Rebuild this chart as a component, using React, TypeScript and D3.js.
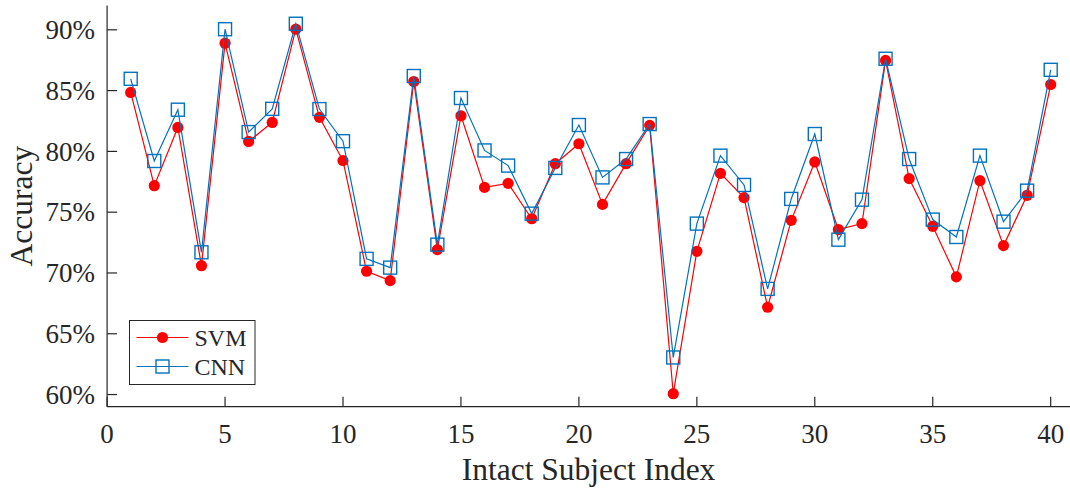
import { useEffect, useRef } from 'react'
import * as d3 from 'd3'

const SUBJECTS = d3.range(1, 41)

const SVM = [
  84.85, 77.18, 81.97, 70.6, 88.9, 80.82, 82.38, 90.05, 82.8, 79.24,
  70.14, 69.37, 85.75, 71.92, 82.93, 77.04, 77.37, 74.46, 78.99, 80.63,
  75.64, 78.99, 82.14, 60.07, 71.78, 78.19, 76.2, 67.18, 74.33, 79.13,
  73.57, 74.06, 87.48, 77.76, 73.84, 69.68, 77.59, 72.25, 76.39, 85.5,
]

const CNN = [
  85.97, 79.21, 83.43, 71.7, 90.05, 81.59, 83.5, 90.5, 83.48, 80.84,
  71.16, 70.44, 86.2, 72.33, 84.39, 80.08, 78.83, 74.88, 78.64, 82.17,
  77.86, 79.37, 82.25, 63.05, 74.06, 79.65, 77.24, 68.69, 76.09, 81.43,
  72.74, 76.03, 87.62, 79.37, 74.39, 72.96, 79.65, 74.22, 76.77, 86.71,
]

const X_TICKS = [0, 5, 10, 15, 20, 25, 30, 35, 40]
const Y_TICKS = [60, 65, 70, 75, 80, 85, 90]

const AXIS = '#262626'
const RED = '#ff0000'
const BLUE = '#0072bd'
const FONT = '"Liberation Serif", "Times New Roman", serif'

export default function App() {
  const svgRef = useRef<SVGSVGElement>(null)

  useEffect(() => {
    if (!svgRef.current) return
    const width = 1070
    const height = 490
    const svg = d3.select(svgRef.current)
    svg.selectAll('*').remove()
    svg.attr('width', width).attr('height', height)

    const left = 107.1
    const bottom = 406.7
    const top = 5.5

    const x = d3.scaleLinear().domain([0, 40]).range([left, 1050.7])
    const y = d3.scaleLinear().domain([59, 92]).range([bottom, top])

    const g = svg.append('g')

    // axes (MATLAB style: ticks inward, no box)
    g.append('line')
      .attr('x1', left).attr('x2', width)
      .attr('y1', bottom).attr('y2', bottom)
      .attr('stroke', AXIS).attr('stroke-width', 1.2)
    g.append('line')
      .attr('x1', left).attr('x2', left)
      .attr('y1', top).attr('y2', bottom)
      .attr('stroke', AXIS).attr('stroke-width', 1.2)

    g.selectAll('line.xt')
      .data(X_TICKS)
      .enter().append('line')
      .attr('x1', d => x(d)).attr('x2', d => x(d))
      .attr('y1', bottom).attr('y2', bottom - 10)
      .attr('stroke', AXIS).attr('stroke-width', 1.2)

    g.selectAll('text.xt')
      .data(X_TICKS)
      .enter().append('text')
      .attr('x', d => x(d))
      .attr('y', 443)
      .attr('text-anchor', 'middle')
      .attr('font-family', FONT)
      .attr('font-size', '27px')
      .attr('fill', AXIS)
      .text(d => d)

    g.selectAll('line.yt')
      .data(Y_TICKS)
      .enter().append('line')
      .attr('x1', left).attr('x2', left + 10)
      .attr('y1', d => y(d)).attr('y2', d => y(d))
      .attr('stroke', AXIS).attr('stroke-width', 1.2)

    g.selectAll('text.yt')
      .data(Y_TICKS)
      .enter().append('text')
      .attr('x', 95)
      .attr('y', d => y(d))
      .attr('dy', '0.34em')
      .attr('text-anchor', 'end')
      .attr('font-family', FONT)
      .attr('font-size', '27px')
      .attr('fill', AXIS)
      .text(d => `${d}%`)

    // axis labels
    g.append('text')
      .attr('x', (left + 1070) / 2)
      .attr('y', 480)
      .attr('text-anchor', 'middle')
      .attr('font-family', FONT)
      .attr('font-size', '31.5px')
      .attr('fill', AXIS)
      .text('Intact Subject Index')

    g.append('text')
      .attr('transform', `translate(32,${(top + bottom) / 2}) rotate(-90)`)
      .attr('text-anchor', 'middle')
      .attr('font-family', FONT)
      .attr('font-size', '31.5px')
      .attr('fill', AXIS)
      .text('Accuracy')

    const line = d3.line<number>()
      .x((_, i) => x(SUBJECTS[i]))
      .y(d => y(d))

    // SVM
    g.append('path')
      .datum(SVM)
      .attr('d', line)
      .attr('fill', 'none')
      .attr('stroke', RED)
      .attr('stroke-width', 1.2)
    g.selectAll('circle.svm')
      .data(SVM)
      .enter().append('circle')
      .attr('cx', (_, i) => x(SUBJECTS[i]))
      .attr('cy', d => y(d))
      .attr('r', 5.6)
      .attr('fill', RED)

    // CNN
    const s = 13
    g.append('path')
      .datum(CNN)
      .attr('d', line)
      .attr('fill', 'none')
      .attr('stroke', BLUE)
      .attr('stroke-width', 1.2)
    g.selectAll('rect.cnn')
      .data(CNN)
      .enter().append('rect')
      .attr('x', (_, i) => x(SUBJECTS[i]) - s / 2)
      .attr('y', d => y(d) - s / 2)
      .attr('width', s)
      .attr('height', s)
      .attr('fill', 'none')
      .attr('stroke', BLUE)
      .attr('stroke-width', 1.4)

    // legend
    const lg = g.append('g')
    lg.append('rect')
      .attr('x', 129.5).attr('y', 320.5)
      .attr('width', 125.5).attr('height', 64)
      .attr('fill', '#fff')
      .attr('stroke', AXIS)
      .attr('stroke-width', 1)
    const items = [
      { label: 'SVM', color: RED, y: 337.5 },
      { label: 'CNN', color: BLUE, y: 366.5 },
    ]
    items.forEach((it, i) => {
      lg.append('line')
        .attr('x1', 136.5).attr('x2', 188.5)
        .attr('y1', it.y).attr('y2', it.y)
        .attr('stroke', it.color).attr('stroke-width', 1.2)
      if (i === 0) {
        lg.append('circle').attr('cx', 162.5).attr('cy', it.y).attr('r', 5.6).attr('fill', RED)
      } else {
        lg.append('rect')
          .attr('x', 162.5 - s / 2).attr('y', it.y - s / 2)
          .attr('width', s).attr('height', s)
          .attr('fill', 'none').attr('stroke', BLUE).attr('stroke-width', 1.4)
      }
      lg.append('text')
        .attr('x', 194.5)
        .attr('y', it.y)
        .attr('dy', '0.35em')
        .attr('font-family', FONT)
        .attr('font-size', '24px')
        .attr('fill', AXIS)
        .text(it.label)
    })
  }, [])

  return (
    <div style={{ position: 'absolute', left: 0, top: 0, width: 1070, height: 490, overflow: 'hidden', background: '#fff' }}>
      <svg ref={svgRef} style={{ display: 'block' }} />
    </div>
  )
}
